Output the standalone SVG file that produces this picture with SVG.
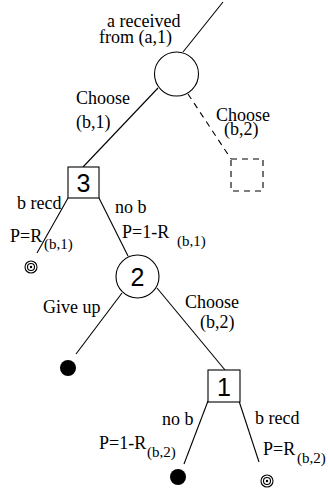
<svg xmlns="http://www.w3.org/2000/svg" width="328" height="495" viewBox="0 0 328 495">
<style>
.e{stroke:#000;stroke-width:1.1;fill:none}
.d{stroke:#000;stroke-width:1.1;fill:none;stroke-dasharray:6,5}
.n{stroke:#000;stroke-width:1.1;fill:#fff}
text{font-family:"Liberation Serif","Times New Roman",serif;font-size:18px;fill:#000}
.s{font-size:15px}
.num{font-family:"Liberation Sans",Arial,sans-serif;font-size:25px;text-anchor:middle}
</style>
<rect width="328" height="495" fill="#fff"/>
<g id="connectors">
<line class="e" x1="223" y1="2" x2="183" y2="52"/>
<line class="e" x1="158" y1="88" x2="83" y2="167"/>
<line class="d" x1="188" y1="94" x2="231" y2="159"/>
<line class="e" x1="68" y1="198" x2="37" y2="253"/>
<line class="e" x1="99" y1="198" x2="128" y2="256"/>
<line class="e" x1="122" y1="293" x2="76" y2="354"/>
<line class="e" x1="157" y1="288" x2="225" y2="370"/>
<line class="e" x1="208" y1="401" x2="184" y2="464"/>
<line class="e" x1="239" y1="401" x2="259" y2="462"/>
</g>
<g id="n0"><circle class="n" cx="176.5" cy="74" r="22"/></g>
<g id="n3"><rect class="n" x="68" y="167" width="31" height="31"/><text class="num" x="83.5" y="192">3</text></g>
<g id="nd"><rect class="d" x="231" y="159" width="32" height="32"/></g>
<g id="t1"><circle class="e" cx="31" cy="267" r="6"/><circle class="e" cx="31" cy="267" r="3.5"/><circle cx="31" cy="267" r="1.2"/></g>
<g id="n2"><circle class="n" cx="137.5" cy="276.5" r="21.5"/><text class="num" x="137.5" y="286">2</text></g>
<g id="t2"><circle cx="68" cy="368" r="8"/></g>
<g id="n1"><rect class="n" x="208" y="370" width="32" height="32"/><text class="num" x="224" y="396">1</text></g>
<g id="t3"><circle cx="178" cy="477" r="8"/></g>
<g id="t4"><circle class="e" cx="267" cy="481" r="6"/><circle class="e" cx="267" cy="481" r="3.5"/><circle cx="267" cy="481" r="1.2"/></g>
<g id="labels">
<text x="107" y="27">a received</text>
<text x="99" y="43">from (a,1)</text>
<text x="76" y="104">Choose</text>
<text x="76" y="128">(b,1)</text>
<text x="216" y="121">Choose</text>
<text x="224" y="135">(b,2)</text>
<text x="17" y="209">b recd</text>
<text x="10" y="242">P=R</text>
<text class="s" x="44" y="249">(b,1)</text>
<text x="115" y="213">no b</text>
<text x="122" y="238">P=1-R</text>
<text class="s" x="177" y="246">(b,1)</text>
<text x="43" y="313">Give up</text>
<text x="185" y="308">Choose</text>
<text x="200" y="328">(b,2)</text>
<text x="162" y="425">no b</text>
<text x="99" y="449">P=1-R</text>
<text class="s" x="147" y="457">(b,2)</text>
<text x="255" y="424">b recd</text>
<text x="263" y="455">P=R</text>
<text class="s" x="297" y="463">(b,2)</text>
</g>
</svg>
